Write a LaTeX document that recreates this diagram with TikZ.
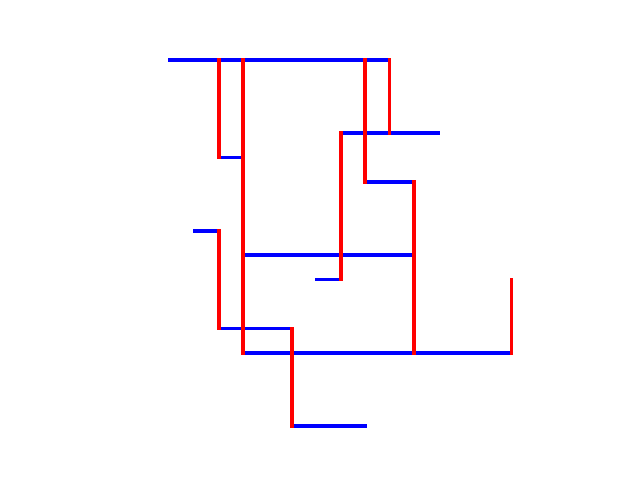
\documentclass[tikz,border=0pt]{standalone}
\usepackage{tikz}
\definecolor{segblue}{HTML}{0000FF}
\definecolor{segred}{HTML}{FF0000}
\tikzset{hseg/.style={segblue,line width=2.5pt,line cap=rect},vseg/.style={segred,line width=2.5pt,line cap=rect}}
\begin{document}
\begin{tikzpicture}
\useasboundingbox (0,0) rectangle (16,12);
\begin{scope}[shift={(4.25,10.5)},x=0.61cm,y=-0.61cm]
% horizontal runs: row/from/to
\foreach \r/\a/\b in {0/0/9,3/7/11,4/2/3,5/8/10,7/1/2,8/3/10,9/6/7,11/2/5,12/3/14,15/5/8}
  \draw[hseg] (\a,\r) -- (\b,\r);
% vertical runs: column/from/to
\foreach \c/\a/\b in {2/0/4,3/0/12,8/0/5,9/0/3,7/3/9,10/5/12,2/7/11,5/11/15,14/9/12}
  \draw[vseg] (\c,\a) -- (\c,\b);
\end{scope}
\end{tikzpicture}
\end{document}
